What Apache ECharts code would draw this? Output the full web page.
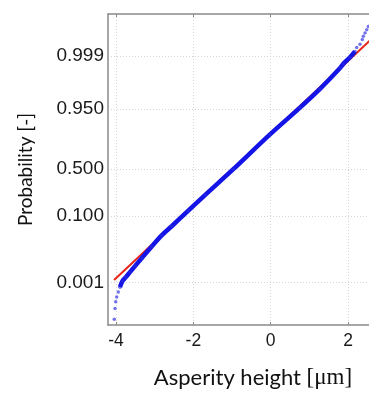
<!DOCTYPE html>
<html><head><meta charset="utf-8">
<script src="https://cdn.jsdelivr.net/npm/echarts@6/dist/echarts.min.js"></script>
<style>html,body{margin:0;padding:0;background:#fff}#c{width:369px;height:394px}</style>
</head><body><div id="c"></div>
<script>
// ---- data ----
const xTickValues = [-4, -2, 0, 2];
const probTicks = [0.001, 0.100, 0.500, 0.950, 0.999];
const probTickLabels = ['0.001', '0.100', '0.500', '0.950', '0.999'];
// measured asperity heights (µm)
const sampleHeight = [-4.045, -4.026, -4.008, -3.982, -3.941, -3.897, -3.838, -3.750, -3.639, -3.509,
  -3.336, -3.077, -2.819, -2.560, -2.131, -1.699, -0.967, -0.018, 0.758, 1.275, 1.800, 1.877,
  2.051, 2.180, 2.224, 2.309, 2.369, 2.395, 2.439, 2.483, 2.524];
// standard-normal quantile of the cumulative probability of each sample
const sampleQuantile = [-4.088, -3.795, -3.616, -3.483, -3.349, -3.216, -3.056, -2.948, -2.807, -2.642,
  -2.426, -2.108, -1.806, -1.555, -1.130, -0.705, 0.000, 0.949, 1.680, 2.190, 2.765, 2.872,
  3.051, 3.211, 3.317, 3.405, 3.539, 3.627, 3.717, 3.805, 3.893];
// fitted normal reference line
const fitHeight = [-4.05, 2.62];
const fitQuantile = [-3.02, 3.56];

// inverse standard normal CDF (Acklam)
function probit(p) {
  const a = [-3.969683028665376e+01, 2.209460984245205e+02, -2.759285104469687e+02, 1.383577518672690e+02, -3.066479806614716e+01, 2.506628277459239e+00];
  const b = [-5.447609879822406e+01, 1.615858368580409e+02, -1.556989798598866e+02, 6.680131188771972e+01, -1.328068155288572e+01];
  const c = [-7.784894002430293e-03, -3.223964580411365e-01, -2.400758277161838e+00, -2.549732539343734e+00, 4.374664141464968e+00, 2.938163982698783e+00];
  const d = [7.784695709041462e-03, 3.224671290700398e-01, 2.445134137142996e+00, 3.754408661907416e+00];
  const plow = 0.02425;
  let q, r;
  if (p < plow) {
    q = Math.sqrt(-2 * Math.log(p));
    return (((((c[0]*q+c[1])*q+c[2])*q+c[3])*q+c[4])*q+c[5]) / ((((d[0]*q+d[1])*q+d[2])*q+d[3])*q+1);
  } else if (p <= 1 - plow) {
    q = p - 0.5; r = q * q;
    return (((((a[0]*r+a[1])*r+a[2])*r+a[3])*r+a[4])*r+a[5])*q / (((((b[0]*r+b[1])*r+b[2])*r+b[3])*r+b[4])*r+1);
  } else {
    q = Math.sqrt(-2 * Math.log(1 - p));
    return -(((((c[0]*q+c[1])*q+c[2])*q+c[3])*q+c[4])*q+c[5]) / ((((d[0]*q+d[1])*q+d[2])*q+d[3])*q+1);
  }
}
const tickZ = probTicks.map(probit);
function zLabel(v) {
  let best = 0;
  tickZ.forEach((z, i) => { if (Math.abs(z - v) < Math.abs(tickZ[best] - v)) best = i; });
  return probTickLabels[best];
}

const samples = sampleHeight.map((h, i) => [h, sampleQuantile[i]]);
const dense = samples.filter(p => p[0] >= -3.9 && p[0] <= 2.19);
const fit = fitHeight.map((h, i) => [h, fitQuantile[i]]);

const gridColor = '#d6d6d6';
const axisColor = '#8a8a8a';

const chart = echarts.init(document.getElementById('c'), null, { renderer: 'canvas' });
chart.setOption({
  animation: false,
  backgroundColor: '#fff',
  grid: { left: 108, right: 0, top: 14, bottom: 62, containLabel: false },
  xAxis: [{
    type: 'value', min: -4.207, max: 2.542,
    axisLine: { show: true, onZero: false, lineStyle: { color: axisColor, width: 1.5 } },
    axisTick: { show: true, inside: true, length: 3, lineStyle: { color: axisColor }, customValues: xTickValues },
    axisLabel: { customValues: xTickValues, margin: 7, formatter: v => String(v),
      fontFamily: 'Liberation Sans', fontSize: 17.5, color: '#1a1a1a' },
    splitLine: { show: true, lineStyle: { color: gridColor, type: [1, 2], width: 1 } },
    name: '{a|Asperity height }{b|[μm]}',
    nameLocation: 'middle', nameGap: 41,
    nameTextStyle: {
      padding: [0, 0, 0, 29],
      rich: {
        a: { fontFamily: 'Lato', fontSize: 22, color: '#111' },
        b: { fontFamily: 'Liberation Serif', fontSize: 23, color: '#111' }
      }
    }
  }, {
    type: 'value', position: 'top', min: -4.207, max: 2.542,
    axisLine: { show: true, onZero: false, lineStyle: { color: axisColor, width: 1.5 } },
    axisTick: { show: true, inside: true, length: 3, lineStyle: { color: axisColor }, customValues: xTickValues },
    axisLabel: { show: false },
    splitLine: { show: false }
  }],
  yAxis: {
    type: 'value', min: -4.248, max: 4.232,
    axisLine: { show: true, onZero: false, lineStyle: { color: axisColor, width: 1.5 } },
    axisTick: { show: false, customValues: tickZ },
    axisLabel: { customValues: tickZ, margin: 4, formatter: zLabel,
      fontFamily: 'Liberation Sans', fontSize: 19, color: '#1a1a1a' },
    splitLine: { show: true, lineStyle: { color: gridColor, type: [1, 2], width: 1 } },
    name: 'Probability [-]',
    nameLocation: 'middle', nameGap: 73,
    nameTextStyle: { fontFamily: 'Lato', fontSize: 19, color: '#111' }
  },
  series: [{
    type: 'line', data: fit, showSymbol: false, clip: true,
    lineStyle: { color: '#e8261c', width: 2 }, z: 2
  }, {
    type: 'line', data: dense, showSymbol: false, clip: true, smooth: 0.3,
    lineStyle: { color: '#1414e6', width: 4.5 }, z: 3
  }, {
    type: 'scatter', data: samples, symbol: 'circle', symbolSize: 3.5, clip: true,
    itemStyle: { color: '#2a2ae0', opacity: 0.65 }, z: 4
  }]
});
</script></body></html>
